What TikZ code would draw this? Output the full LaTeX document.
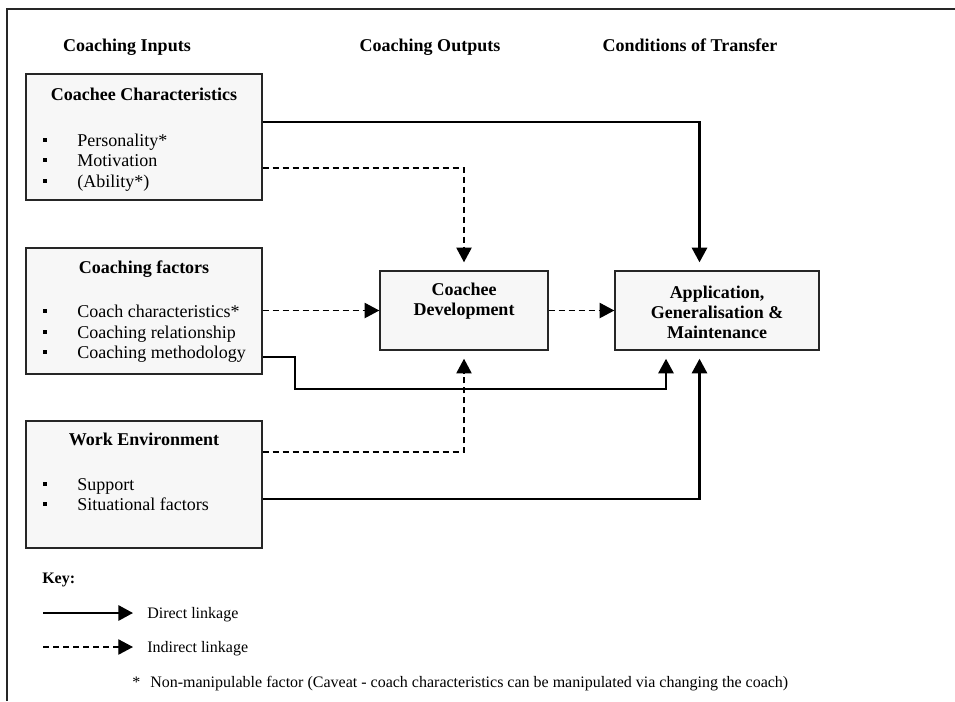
\documentclass[tikz,border=0pt]{standalone}
\usepackage{fontspec}
\setmainfont{Liberation Serif}
\usetikzlibrary{arrows.meta,calc}
\begin{document}
\begin{tikzpicture}[x=0.75pt,y=-0.75pt,
  boxnode/.style={draw=black!85,line width=1.1pt,fill=black!3,inner sep=0pt},
  maintext/.style={font=\fontsize{13.5}{15}\selectfont,inner sep=0pt},
  titletext/.style={font=\bfseries\fontsize{13.5}{15}\selectfont,inner sep=0pt,anchor=base},
  itemtext/.style={maintext,anchor=base west},
  bulletnode/.style={fill=black,minimum size=3.4pt,inner sep=0pt},
  keytext/.style={font=\fontsize{12}{13}\selectfont,inner sep=0pt,anchor=base west},
  direct/.style={line width=1.6pt,-{Triangle[length=11pt,width=11.5pt]}},
  indirect/.style={line width=0.9pt,dash pattern=on 4.5pt off 3pt,-{Triangle[length=11pt,width=11.5pt]}},
  vgap/.style={shorten >=6pt}
]
\useasboundingbox (0,0) rectangle (955,701);
% frame
\draw[line width=1.1pt,black!85] (7,701) -- (7,9) -- (955,9);

% headers
\node[titletext] (hin) at (127,51) {Coaching Inputs};
\node[titletext] (hout) at (430,51) {Coaching Outputs};
\node[titletext] (htr) at (690,51) {Conditions of Transfer};

% boxes
\node[boxnode,minimum width=236*0.75pt,minimum height=126*0.75pt] (cc) at (144,137) {};
\node[boxnode,minimum width=236*0.75pt,minimum height=126*0.75pt] (cf) at (144,311) {};
\node[boxnode,minimum width=236*0.75pt,minimum height=127*0.75pt] (we) at (144,484.5) {};
\node[boxnode,minimum width=168*0.75pt,minimum height=79*0.75pt] (dev) at (464,310.5) {};
\node[boxnode,minimum width=204*0.75pt,minimum height=79*0.75pt] (app) at (717,310.5) {};

% box 1
\node[titletext] (cct) at (144,100) {Coachee Characteristics};
\node[bulletnode] (b11) at (45,140) {};
\node[bulletnode] (b12) at (45,160) {};
\node[bulletnode] (b13) at (45,181) {};
\node[itemtext] (i11) at (77,146) {Personality*};
\node[itemtext] (i12) at (77,166) {Motivation};
\node[itemtext] (i13) at (77,187) {(Ability*)};

% box 2
\node[titletext] (cft) at (144,273) {Coaching factors};
\node[bulletnode] (b21) at (45,311) {};
\node[bulletnode] (b22) at (45,332) {};
\node[bulletnode] (b23) at (45,352) {};
\node[itemtext] (i21) at (77,317) {Coach characteristics*};
\node[itemtext] (i22) at (77,338) {Coaching relationship};
\node[itemtext] (i23) at (77,358) {Coaching methodology};

% box 3
\node[titletext] (wet) at (144,445) {Work Environment};
\node[bulletnode] (b31) at (45,484) {};
\node[bulletnode] (b32) at (45,504) {};
\node[itemtext] (i31) at (77,490) {Support};
\node[itemtext] (i32) at (77,510) {Situational factors};

% output boxes text
\node[maintext,font=\bfseries\fontsize{13.5}{15}\selectfont,align=center] (devt) at (464,301) {Coachee\\Development};
\node[maintext,font=\bfseries\fontsize{13.5}{15}\selectfont,align=center] (appt) at (717,312) {Application,\\Generalisation \&\\Maintenance};

% connectors
\draw[direct,vgap] (cc.east |- 0,121.7) -| (app.north -| 699.5,0);
\draw[indirect,vgap] (cc.east |- 0,168) -| (dev.north);
\draw[indirect] (cf.east |- dev.west) -- (dev.west);
\draw[direct,vgap] (cf.east |- 0,357) -- (295,357) -- (295,389) -| (app.south -| 666,0);
\draw[indirect,vgap] (we.east |- 0,452) -| (dev.south);
\draw[direct,vgap] (we.east |- 0,499) -| (app.south -| 699.5,0);
\draw[indirect] (dev.east) -- (app.west |- dev.east);

% key
\node[font=\bfseries\fontsize{12}{13}\selectfont,inner sep=0pt,anchor=base west] (key) at (42,583) {Key:};
\coordinate (d1) at (43,613);
\coordinate (d2) at (133,613);
\coordinate (n1) at (43,647);
\coordinate (n2) at (133,647);
\draw[direct] (d1) -- (d2);
\draw[indirect] (n1) -- (n2);
\node[keytext] (dl) at (147,618) {Direct linkage};
\node[keytext] (il) at (147,652) {Indirect linkage};
\node[keytext] (star) at (132,687) {*};
\node[keytext] (fn) at (150,687) {Non-manipulable factor (Caveat - coach characteristics can be manipulated via changing the coach)};
\end{tikzpicture}
\end{document}
